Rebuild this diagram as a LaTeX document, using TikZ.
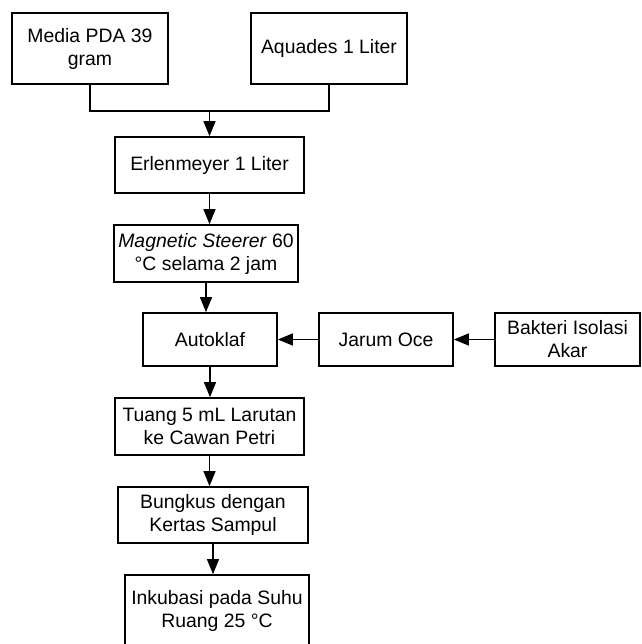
\documentclass[tikz,border=0pt]{standalone}
\usepackage{fontspec}
\setmainfont{Liberation Sans}
\usepackage{tikz}
\usetikzlibrary{arrows.meta}

\tikzset{
	box/.style={draw, line width=1.7pt, inner sep=0pt, align=center,
		font=\fontsize{19.4}{23}\selectfont},
	arr/.style={line width=1.4pt, -{Triangle[width=12pt,length=15pt]}},
	link/.style={line width=1.4pt}
}

\begin{document}
\begin{tikzpicture}[x=1pt, y=1pt]
	\useasboundingbox (0,0) rectangle (641,-644);
	\clip (0,0) rectangle (641,-644);
	% bahan
	\node [box, minimum width=156pt, minimum height=71pt] (media) at (90,-48.5) {Media PDA 39\\gram};
	\node [box, minimum width=156pt, minimum height=71pt] (aquades) at (329,-48.5) {Aquades 1 Liter};
	% alur utama
	\node [box, minimum width=189pt, minimum height=56pt] (erlen) at (209.5,-165) {Erlenmeyer 1 Liter};
	\node [box, minimum width=184pt, minimum height=57pt] (magnet) at (206,-253.5) {\textit{Magnetic Steerer} 60\\°C selama 2 jam};
	\node [box, minimum width=134pt, minimum height=53pt] (autoklaf) at (210,-339.5) {Autoklaf};
	\node [box, minimum width=134pt, minimum height=53pt] (jarum) at (386,-339.5) {Jarum Oce};
	\node [box, minimum width=145pt, minimum height=53pt] (bakteri) at (567.5,-339.5) {Bakteri Isolasi\\Akar};
	\node [box, minimum width=189pt, minimum height=57pt] (tuang) at (209.5,-426.5) {Tuang 5 mL Larutan\\ke Cawan Petri};
	\node [box, minimum width=190pt, minimum height=56pt] (bungkus) at (213,-515) {Bungkus dengan\\Kertas Sampul};
	\node [box, minimum width=184pt, minimum height=72pt] (inkubasi) at (217,-611) {Inkubasi pada Suhu\\Ruang 25 °C};

	% penggabungan
	\draw [link] (media.south) -- ++(0,-26) coordinate (ml) -| (aquades.south);
	\coordinate (join) at (erlen.north |- ml);
	\draw [arr] (join) -- (erlen.north);

	\draw [arr] (erlen) -- (erlen |- magnet.north);
	\draw [arr] (magnet) -- (magnet |- autoklaf.north);
	\draw [arr] (autoklaf) -- (autoklaf |- tuang.north);
	\draw [arr] (tuang) -- (tuang |- bungkus.north);
	\draw [arr] (bungkus) -- (bungkus |- inkubasi.north);
	\draw [arr] (bakteri) -- (jarum);
	\draw [arr] (jarum) -- (autoklaf);
\end{tikzpicture}
\end{document}
